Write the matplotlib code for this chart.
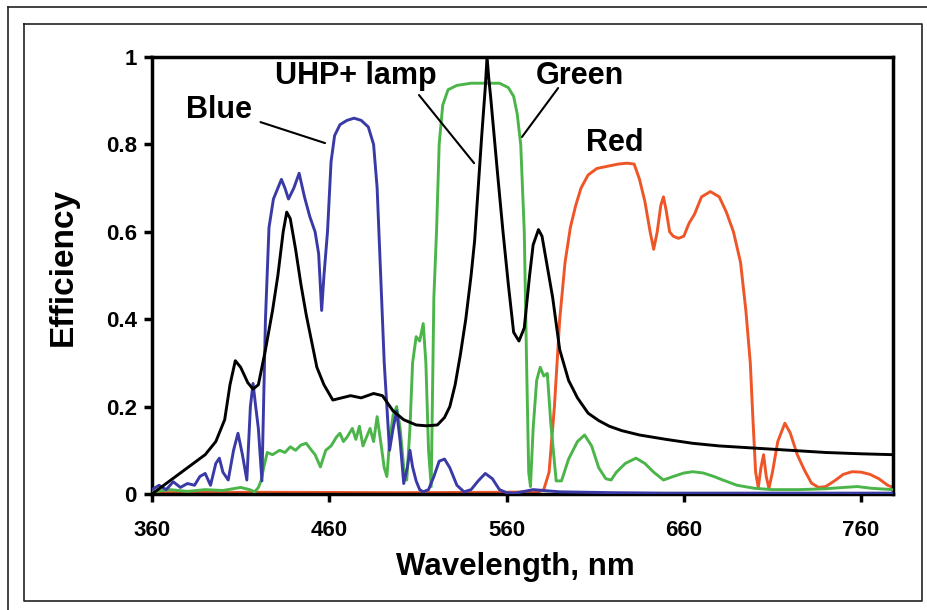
import matplotlib
matplotlib.use("Agg")
import matplotlib.pyplot as plt
from matplotlib.lines import Line2D

plt.rcParams['font.family'] = ['Liberation Sans', 'DejaVu Sans']
plt.rcParams['font.weight'] = 'bold'

# ---------------- data ----------------
lamp_wl = [360, 370, 380, 390, 396, 401, 404, 407, 410, 414, 417, 420, 424, 428, 431, 434, 436,
           438, 441, 444, 447, 450, 453, 457, 462, 467, 472, 478, 485, 490, 496, 502, 509, 515,
           521, 525, 528, 531, 534, 537, 540, 542, 544, 546, 548, 549, 550, 551, 553, 555, 558,
           561, 564, 567, 570, 573, 575, 578, 580, 583, 586, 590, 595, 600, 606, 612, 618, 625,
           635, 650, 665, 680, 700, 720, 740, 760, 778]
lamp_eff = [0.0, 0.03, 0.06, 0.09, 0.12, 0.17, 0.25, 0.305, 0.29, 0.255, 0.24, 0.25, 0.33, 0.42,
            0.5, 0.6, 0.645, 0.63, 0.56, 0.48, 0.41, 0.35, 0.29, 0.25, 0.215, 0.22, 0.225, 0.22,
            0.23, 0.225, 0.19, 0.17, 0.158, 0.156, 0.158, 0.175, 0.2, 0.25, 0.32, 0.4, 0.5, 0.58,
            0.7, 0.82, 0.93, 1.0, 0.95, 0.91, 0.82, 0.73, 0.6, 0.48, 0.37, 0.35, 0.38, 0.5, 0.57,
            0.605, 0.59, 0.52, 0.45, 0.33, 0.26, 0.22, 0.185, 0.168, 0.155, 0.145, 0.135, 0.125,
            0.116, 0.11, 0.105, 0.1, 0.095, 0.092, 0.09]

blue_wl = [360, 364, 368, 372, 376, 380, 384, 387, 390, 393, 396, 398, 400, 403, 406, 408.5, 411,
           413.5, 415.5, 417, 418.5, 420, 422, 424, 426, 428.5, 431, 433, 435, 437, 440, 443,
           446, 449, 452, 454, 455.7, 457, 459, 461, 463, 466, 470, 474, 478, 482, 485, 487, 489,
           491, 492.5, 494, 496, 498, 500, 502, 504, 505.5, 507, 509, 511, 513, 516, 519, 522,
           525, 528, 532, 536, 540, 544, 548, 552, 556, 560, 565, 575, 590, 620, 650, 700, 778]
blue_eff = [0.01, 0.02, 0.01, 0.028, 0.015, 0.024, 0.02, 0.04, 0.047, 0.02, 0.07, 0.082, 0.05,
            0.032, 0.1, 0.139, 0.09, 0.032, 0.2, 0.253, 0.2, 0.15, 0.03, 0.4, 0.61, 0.675, 0.7,
            0.72, 0.7, 0.675, 0.7, 0.734, 0.68, 0.635, 0.6, 0.55, 0.42, 0.5, 0.6, 0.76, 0.82,
            0.845, 0.855, 0.86, 0.855, 0.84, 0.8, 0.7, 0.5, 0.3, 0.2, 0.1, 0.15, 0.19, 0.12,
            0.024, 0.06, 0.1, 0.062, 0.03, 0.01, 0.005, 0.01, 0.04, 0.075, 0.08, 0.06, 0.02,
            0.005, 0.01, 0.03, 0.047, 0.035, 0.01, 0.003, 0.002, 0.01, 0.005, 0.003, 0.002,
            0.002, 0.002]

green_wl = [360, 370, 380, 390, 400, 410, 415, 418, 420, 421.5, 423, 425, 428, 432, 435, 438,
            441, 444, 447, 450, 452, 455, 458, 461, 464, 466, 468, 470, 473, 475, 477, 479, 481,
            483, 485, 487, 489, 491, 492.5, 494, 496, 498, 500, 502, 503.7, 505.5, 507, 509, 511,
            513, 514.5, 516, 517.5, 519, 520.5, 522, 524, 527, 532, 540, 548, 556, 561, 564, 566,
            568, 570, 571.3, 572.5, 573.5, 575, 577, 579, 581, 583, 585, 588, 591, 595, 600, 604,
            608, 612, 616, 619, 622, 627, 633, 638, 643, 648.5, 654, 660, 665, 671, 677, 682,
            690, 700, 710, 725, 740, 750, 758, 766, 778]
green_eff = [0.005, 0.01, 0.006, 0.01, 0.008, 0.015, 0.01, 0.005, 0.015, 0.03, 0.06, 0.095, 0.09,
             0.1, 0.095, 0.108, 0.1, 0.112, 0.116, 0.1, 0.09, 0.062, 0.1, 0.11, 0.13, 0.139,
             0.12, 0.13, 0.15, 0.125, 0.155, 0.11, 0.13, 0.15, 0.12, 0.177, 0.12, 0.06, 0.04,
             0.12, 0.18, 0.2, 0.15, 0.06, 0.032, 0.15, 0.3, 0.36, 0.35, 0.39, 0.3, 0.1, 0.017,
             0.45, 0.6, 0.8, 0.89, 0.925, 0.935, 0.94, 0.94, 0.94, 0.93, 0.91, 0.87, 0.8, 0.6,
             0.3, 0.05, 0.017, 0.15, 0.26, 0.29, 0.27, 0.276, 0.16, 0.03, 0.03, 0.08, 0.12,
             0.135, 0.11, 0.06, 0.035, 0.032, 0.05, 0.07, 0.082, 0.07, 0.05, 0.032, 0.04, 0.048,
             0.051, 0.048, 0.04, 0.032, 0.02, 0.013, 0.01, 0.01, 0.012, 0.015, 0.017, 0.013,
             0.01]

red_wl = [360, 420, 500, 560, 578, 581, 584, 587, 590, 593, 596, 599, 602, 606, 611, 617, 623,
          628, 632, 635, 638, 641, 643, 645, 647, 648.5, 650, 652, 654, 657, 660, 663, 666, 670,
          675, 680, 684, 688, 692, 695, 697.5, 699, 700.5, 702, 703.5, 705, 706.5, 708, 710,
          713, 717, 720, 724, 728, 732, 736, 740, 745, 750, 755, 760, 765, 770, 775, 778]
red_eff = [0.003, 0.004, 0.003, 0.004, 0.005, 0.01, 0.05, 0.2, 0.4, 0.53, 0.61, 0.66, 0.7, 0.73,
           0.745, 0.75, 0.755, 0.757, 0.755, 0.72, 0.67, 0.6, 0.56, 0.6, 0.66, 0.68, 0.65, 0.6,
           0.59, 0.585, 0.59, 0.62, 0.64, 0.68, 0.692, 0.68, 0.645, 0.6, 0.53, 0.42, 0.3, 0.17,
           0.05, 0.015, 0.06, 0.09, 0.04, 0.013, 0.05, 0.12, 0.162, 0.14, 0.09, 0.055, 0.025,
           0.015, 0.017, 0.03, 0.045, 0.051, 0.05, 0.045, 0.035, 0.02, 0.015]

x_ticks = [360, 460, 560, 660, 760]
y_ticks = [0, 0.2, 0.4, 0.6, 0.8, 1]
y_ticklabels = ['0', '0.2', '0.4', '0.6', '0.8', '1']

# callouts: label, label position, leader line start, leader line end (data units)
callout_labels = ['Blue', 'UHP+ lamp', 'Green']
callout_text_pos = [(398.0, 0.879), (475.0, 0.957), (601.5, 0.957)]
callout_from = [(421.2, 0.851), (510.6, 0.913), (589.1, 0.929)]
callout_to = [(457.6, 0.803), (541.7, 0.757), (568.7, 0.817)]
red_label_pos = (621.2, 0.803)

# ---------------- figure ----------------
W, H = 928, 610
fig = plt.figure(figsize=(W / 100, H / 100), dpi=100)

def fx(px):
    return px / W

def fy(py):
    return 1 - py / H

# decorative frames
fig.add_artist(Line2D([fx(8), fx(8)], [fy(7), fy(612)], color='#222222', lw=1.2))
fig.add_artist(Line2D([fx(8), fx(930)], [fy(7), fy(7)], color='#222222', lw=1.2))
fig.add_artist(Line2D([fx(24), fx(922), fx(922), fx(24), fx(24)],
                      [fy(24), fy(24), fy(601), fy(601), fy(24)], color='#222222', lw=1.2))

ax = fig.add_axes([fx(152), fy(494), (893 - 152) / W, (494 - 57) / H])

lw = 2.1
ax.plot(red_wl, red_eff, color='#ee5527', lw=lw, zorder=2)
ax.plot(green_wl, green_eff, color='#4cb54a', lw=lw, zorder=3)
ax.plot(blue_wl, blue_eff, color='#3a3aa6', lw=lw, zorder=4)
ax.plot(lamp_wl, lamp_eff, color='black', lw=lw, zorder=5)

ax.set_xlim(360, 778)
ax.set_ylim(0, 1)
ax.set_xticks(x_ticks)
ax.set_xticklabels([str(t) for t in x_ticks])
ax.set_yticks(y_ticks)
ax.set_yticklabels(y_ticklabels)
ax.tick_params(axis='both', direction='out', length=6, width=2.5, labelsize=16, pad=5)
ax.tick_params(axis='x', pad=13)
for lab in ax.get_xticklabels() + ax.get_yticklabels():
    lab.set_fontweight('bold')
for s in ax.spines.values():
    s.set_linewidth(2.5)

xl = ax.set_xlabel('Wavelength, nm', fontsize=22.5, fontweight='bold')
xl.set_va('center')
ax.xaxis.set_label_coords((515 - 152) / 741, (494 - 567) / 437)
yl = ax.set_ylabel('Efficiency', fontsize=24, fontweight='bold')
yl.set_va('center')
ax.yaxis.set_label_coords((63 - 152) / 741, (494 - 267) / 437)

# annotations
ann = dict(fontsize=22, fontweight='bold', ha='center', va='center')
for lab, tpos, p0, p1 in zip(callout_labels, callout_text_pos, callout_from, callout_to):
    ax.text(tpos[0], tpos[1], lab, zorder=6, **ann)
    ax.annotate('', xy=p1, xytext=p0,
                arrowprops=dict(arrowstyle='-', color='black', lw=1.5, shrinkA=0, shrinkB=0))
ax.text(red_label_pos[0], red_label_pos[1], 'Red', **ann)

fig.savefig('out.png', dpi=100)
